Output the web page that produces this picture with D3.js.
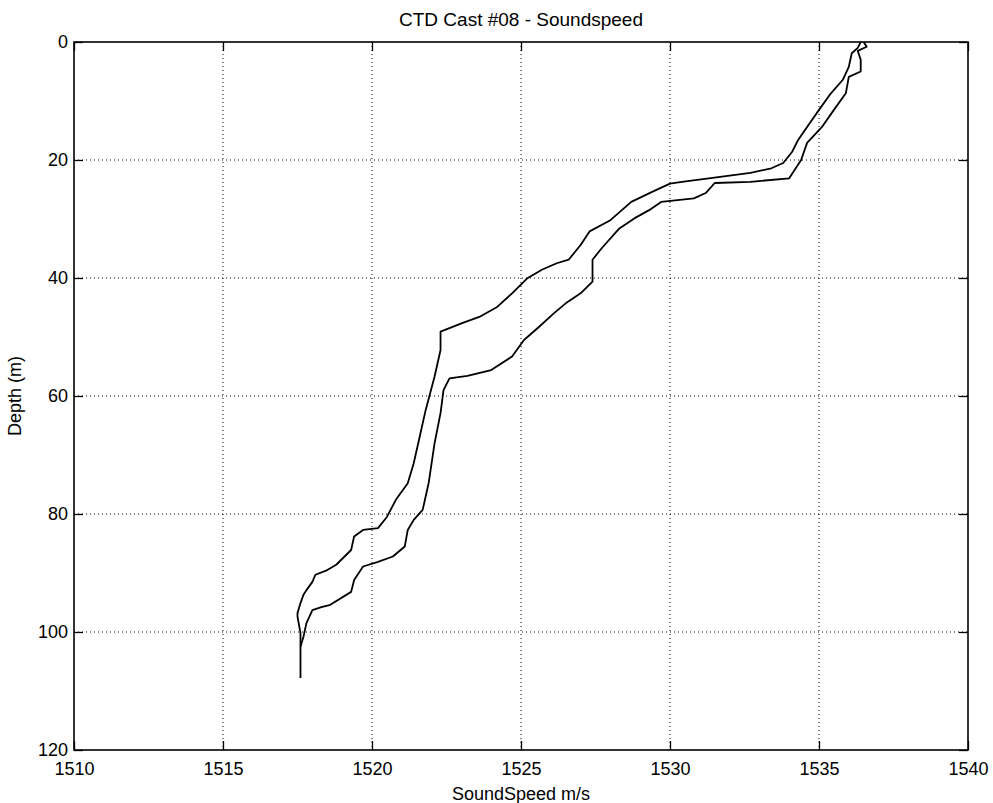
<!DOCTYPE html>
<html>
<head>
<meta charset="utf-8">
<script src="https://cdn.jsdelivr.net/npm/d3@7"></script>
<style>
  html, body { margin: 0; padding: 0; background: #fff; }
  svg { display: block; }
  text { font-family: "Liberation Sans", Arial, sans-serif; fill: #000; }
</style>
</head>
<body>
<svg id="chart" width="993" height="803"></svg>
<script>
// ---- data ----
const chartTitle = "CTD Cast #08 - Soundspeed";
const xLabel = "SoundSpeed m/s";
const yLabel = "Depth (m)";
const xTicks = [1510, 1515, 1520, 1525, 1530, 1535, 1540];
const yTicks = [0, 20, 40, 60, 80, 100, 120];

// cast 1 (left / upper trace)
const depthA = [0, 1, 1.9, 4.2, 6.4, 8.7, 11.5, 14.4, 16.6, 18.6, 20.5, 21.4, 22.2, 23.1, 23.7, 24.0, 25.4, 27.1, 30.2, 32.1, 34.4, 36.9, 37.5, 38.6, 40.1, 42.6, 44.9, 46.6, 47.7, 48.5, 49.1, 52.2, 56.7, 62.4, 66.9, 71.4, 74.8, 77.6, 80.5, 82.4, 82.7, 83.8, 86.1, 88.6, 89.5, 90.3, 91.5, 92.9, 93.7, 95.1, 96.8, 97.4, 100.2, 103.1, 105.3, 107.8];
const speedA = [1536.4, 1536.3, 1536.1, 1536.0, 1535.8, 1535.4, 1535.0, 1534.6, 1534.3, 1534.1, 1533.8, 1533.4, 1532.7, 1531.3, 1530.4, 1530.0, 1529.4, 1528.7, 1528.0, 1527.3, 1527.0, 1526.6, 1526.2, 1525.7, 1525.2, 1524.7, 1524.2, 1523.6, 1523.0, 1522.6, 1522.3, 1522.3, 1522.1, 1521.8, 1521.6, 1521.4, 1521.2, 1520.8, 1520.5, 1520.2, 1519.7, 1519.4, 1519.3, 1518.8, 1518.5, 1518.1, 1518.0, 1517.8, 1517.7, 1517.6, 1517.5, 1517.5, 1517.6, 1517.6, 1517.6, 1517.6];

// cast 2 (right / lower trace)
const depthB = [0, 0.8, 1.5, 3, 5, 5.9, 8.7, 11.5, 14.4, 17.1, 20, 23.1, 23.7, 23.9, 25.6, 26.5, 27.1, 28.5, 29.9, 31.6, 35.0, 36.9, 40.6, 42.6, 44.3, 46.0, 48.3, 50.5, 53.3, 55.6, 56.6, 57.0, 59.0, 62.9, 68, 74.8, 79.3, 81.0, 82.7, 85.5, 87.2, 88.1, 88.9, 91.2, 93.2, 95.4, 95.8, 96.3, 98.5, 100.8, 102.5];
const speedB = [1536.5, 1536.6, 1536.3, 1536.4, 1536.4, 1536.0, 1535.9, 1535.5, 1535.1, 1534.6, 1534.4, 1534.0, 1532.7, 1531.5, 1531.2, 1530.8, 1529.7, 1529.3, 1528.8, 1528.3, 1527.7, 1527.4, 1527.4, 1527.0, 1526.5, 1526.1, 1525.6, 1525.1, 1524.7, 1524.0, 1523.2, 1522.6, 1522.4, 1522.3, 1522.1, 1521.9, 1521.7, 1521.4, 1521.2, 1521.1, 1520.7, 1520.2, 1519.7, 1519.4, 1519.3, 1518.6, 1518.3, 1518.0, 1517.8, 1517.7, 1517.6];

// ---- layout ----
const mLeft = 74, mTop = 42, plotW = 894, plotH = 708;
const svg = d3.select("#chart");

const x = d3.scaleLinear().domain([1510, 1540]).range([mLeft, mLeft + plotW]);
const y = d3.scaleLinear().domain([0, 120]).range([mTop, mTop + plotH]);

// grid
const grid = svg.append("g").attr("stroke", "#000").attr("stroke-width", 1)
  .attr("stroke-dasharray", "1,3");
xTicks.slice(1, -1).forEach(t => {
  grid.append("line").attr("x1", x(t)).attr("x2", x(t)).attr("y1", mTop).attr("y2", mTop + plotH);
});
yTicks.slice(1, -1).forEach(t => {
  grid.append("line").attr("x1", mLeft).attr("x2", mLeft + plotW).attr("y1", y(t)).attr("y2", y(t));
});

// axes with inward ticks
const tickLen = 9;
const xAxisB = d3.axisBottom(x).tickValues(xTicks).tickSize(-tickLen).tickPadding(12).tickFormat(d3.format("d"));
const xAxisT = d3.axisTop(x).tickValues(xTicks).tickSize(-tickLen).tickFormat("");
const yAxisL = d3.axisLeft(y).tickValues(yTicks).tickSize(-tickLen).tickPadding(6).tickFormat(d3.format("d"));
const yAxisR = d3.axisRight(y).tickValues(yTicks).tickSize(-tickLen).tickFormat("");

function styleAxis(g) {
  g.select(".domain").remove();
  g.selectAll(".tick line").attr("stroke", "#000").attr("stroke-width", 1.3);
  g.selectAll(".tick text").attr("font-size", 18).attr("font-family", "Liberation Sans, Arial, sans-serif").attr("fill", "#000");
}
svg.append("g").attr("transform", `translate(0,${mTop + plotH})`).call(xAxisB).call(styleAxis);
svg.append("g").attr("transform", `translate(0,${mTop})`).call(xAxisT).call(styleAxis);
svg.append("g").attr("transform", `translate(${mLeft},0)`).call(yAxisL).call(styleAxis);
svg.append("g").attr("transform", `translate(${mLeft + plotW},0)`).call(yAxisR).call(styleAxis);

// frame
svg.append("rect").attr("x", mLeft).attr("y", mTop).attr("width", plotW).attr("height", plotH)
  .attr("fill", "none").attr("stroke", "#000").attr("stroke-width", 1.6);

// traces
const line = d3.line().x(d => x(d[0])).y(d => y(d[1]));
const dataA = speedA.map((s, i) => [s, depthA[i]]);
const dataB = speedB.map((s, i) => [s, depthB[i]]);
[dataA, dataB].forEach(d => {
  svg.append("path").datum(d).attr("d", line)
    .attr("fill", "none").attr("stroke", "#000").attr("stroke-width", 1.8)
    .attr("stroke-linejoin", "round");
});

// labels
svg.append("text").attr("x", mLeft + plotW / 2).attr("y", 26).attr("text-anchor", "middle")
  .attr("font-size", 19).text(chartTitle);
svg.append("text").attr("x", mLeft + plotW / 2).attr("y", 800).attr("text-anchor", "middle")
  .attr("font-size", 18).text(xLabel);
svg.append("text").attr("transform", `translate(21,${mTop + plotH / 2}) rotate(-90)`)
  .attr("text-anchor", "middle").attr("font-size", 18).text(yLabel);
</script>
</body>
</html>
